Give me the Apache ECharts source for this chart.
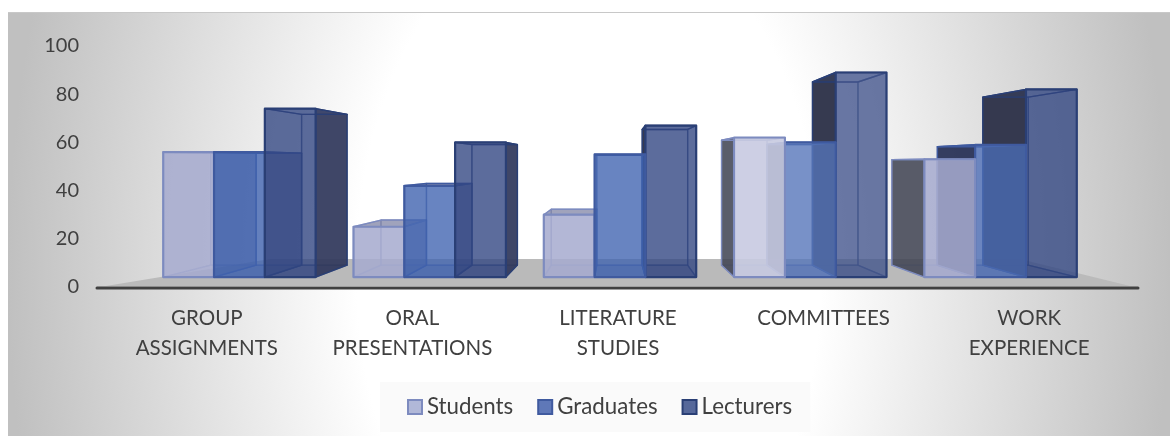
<!DOCTYPE html>
<html><head><meta charset="utf-8">
<style>
html,body{margin:0;padding:0;background:#fff}
#bg{position:absolute;left:8px;top:12px;width:1162px;height:424px;box-sizing:border-box;border-top:1px solid #c8c8c8;
background:radial-gradient(ellipse 581px 900px at 50% 61%,#fff 0%,#fff 40%,#c0c0c0 100%)}
#c{position:absolute;left:0;top:0;width:1170px;height:436px}
</style>
<script src="https://cdn.jsdelivr.net/npm/echarts@6/dist/echarts.min.js"></script>
</head><body><div id="bg"></div><div id="c"></div>
<script>
const categories=['GROUP\nASSIGNMENTS','ORAL\nPRESENTATIONS','LITERATURE\nSTUDIES','COMMITTEES','WORK\nEXPERIENCE'];
const students=[56,25,30,62,53];
const graduates=[56,42,55,60,59];
const lecturers=[74,60,67,89,82];
const yTicks=[0,20,40,60,80,100];
const seriesNames=['Students','Graduates','Lecturers'];
const frontLight=[[0,0,0,.34,0],[0,0,0,.1,.06],[0,0,0,.08,0]];

const FONT='Lato, "Open Sans", sans-serif', TXT='#404040';
const VX=615,VY=163,K=0.895,BASE=4.1,W=50.8,CAT_SCALE=0.9255,CAT_MID=618,BAR_MID=620;
const looks=[
 {front:'rgba(167,172,207,.85)',back:'rgba(150,160,205,.10)',stroke:'#7d8bbf',soft:'rgba(125,139,191,.55)',inner:'rgba(120,130,180,.10)',left:'rgba(62,66,80,.85)',right:'rgba(95,105,155,.55)',top:'rgba(115,120,155,.65)',bottom:'rgba(120,130,180,.2)'},
 {front:'rgba(62,97,175,.75)',back:'rgba(60,90,165,.12)',stroke:'#3f5a9f',soft:'rgba(63,90,159,.5)',inner:'rgba(50,75,145,.14)',left:'rgba(38,48,85,.92)',right:'rgba(45,65,125,.55)',top:'rgba(45,65,125,.65)',bottom:'rgba(50,75,145,.3)'},
 {front:'rgba(50,70,130,.75)',back:'rgba(45,65,125,.16)',stroke:'#2a3f75',soft:'rgba(42,63,117,.6)',inner:'rgba(45,65,125,.14)',left:'rgba(45,50,72,.95)',right:'rgba(50,58,92,.92)',top:'rgba(35,45,90,.85)',bottom:'rgba(40,55,110,.35)'}
];
const bx=x=>VX+(x-VX)*K, by=y=>VY+(y-VY)*K;
function barFace(i,s){return BAR_MID+(i-CAT_MID)*CAT_SCALE-76.2+s*W;}

function barRender(s){return function(params,api){
  const idx=api.value(0);
  const catX=api.coord([idx,0])[0];
  const top=api.coord([0,api.value(1)])[1], bot=api.coord([0,BASE])[1];
  const x1=barFace(catX,s), x2=x1+W, L=looks[s];
  const centres=[0,1,2].map(k=>Math.abs(barFace(catX,k)+W/2-VX));
  const rank=[0,1,2].filter(k=>centres[k]>centres[s]).length;
  const z=rank*10+10;
  const poly=(pts,fill,z2,stroke,lw)=>({type:'polygon',shape:{points:pts},z2:z+z2,
     style:{fill:fill,stroke:stroke,lineWidth:lw||1.4,lineJoin:'round'}});
  const bl=bx(x1),br=bx(x2),bt=by(top),bb=by(bot);
  const leftOuter=bl<x1, rightOuter=br>x2, topOuter=bt<top;
  const children=[
    poly([[bl,bt],[br,bt],[br,bb],[bl,bb]],L.back,0,L.soft),
    poly([[x1,bot],[x2,bot],[br,bb],[bl,bb]],L.bottom,1,L.soft),
    poly([[x1,top],[bl,bt],[bl,bb],[x1,bot]],leftOuter?L.left:L.inner,2,leftOuter?L.stroke:L.soft),
    poly([[x2,top],[br,bt],[br,bb],[x2,bot]],rightOuter?L.right:L.inner,2,rightOuter?L.stroke:L.soft),
    poly([[x1,top],[x2,top],[br,bt],[bl,bt]],topOuter?L.top:L.inner,3,L.stroke),
    poly([[x1,top],[x2,top],[x2,bot],[x1,bot]],L.front,4,L.stroke,2.2)
  ];
  const a=frontLight[s][idx];
  if(a) children.push({type:'polygon',shape:{points:[[x1+1,top+1],[x2-1,top+1],[x2-1,bot-1],[x1+1,bot-1]]},z2:z+5,style:{fill:'rgba(255,255,255,'+a+')'}});
  return {type:'group',children};
};}
function floorRender(params,api){
  const y0=api.coord([0,0])[1], yB=api.coord([0,11.6])[1];
  const cs=params.coordSys, l=cs.x, r=cs.x+cs.width;
  return {type:'group',children:[
    {type:'polygon',shape:{points:[[l+2,y0-1],[l+166,yB],[r-112,yB],[r-2,y0-1]]},style:{fill:'#bababa'}},
    {type:'line',shape:{x1:l-7,y1:y0+1,x2:r+6,y2:y0+1},style:{stroke:'#404040',lineWidth:3,lineCap:'round'}}
  ]};
}
const legendIcons=[
 {fill:'#b1b8d8',stroke:'#7d8bbf'},{fill:'#5f78b8',stroke:'#3f5a9f'},{fill:'#56689a',stroke:'#2a3f75'}];
const chart=echarts.init(document.getElementById('c'),null,{renderer:'canvas'});
chart.setOption({
  animation:false,backgroundColor:'transparent',
  grid:{left:104,right:38,top:46,bottom:149},
  legend:{left:380,top:382,padding:[14,18,14,27],itemWidth:14,itemHeight:14,itemGap:24,icon:'rect',backgroundColor:'rgba(250,250,250,.9)',
    textStyle:{fontFamily:FONT,fontSize:22.3,color:TXT,padding:[0,0,0,0]},
    data:seriesNames.map((n,k)=>({name:n,itemStyle:{color:legendIcons[k].fill,borderColor:legendIcons[k].stroke,borderWidth:2}}))},
  xAxis:{type:'category',data:categories,axisLine:{show:false},axisTick:{show:false},
    axisLabel:{fontFamily:FONT,fontSize:20.5,color:TXT,lineHeight:30,margin:16,interval:0}},
  yAxis:{type:'value',min:0,max:100,interval:20,axisLine:{show:false},axisTick:{show:false},splitLine:{show:false},
    axisLabel:{fontFamily:FONT,fontSize:20,color:TXT,margin:25,formatter:v=>yTicks.includes(v)?String(v):''}},
  series:[
   {type:'custom',name:'floor',z:1,silent:true,clip:false,renderItem:floorRender,data:[[0,0]],encode:{x:0,y:1}},
   ...[students,graduates,lecturers].map((vals,s)=>({type:'custom',name:seriesNames[s],z:3,clip:false,
     itemStyle:{color:legendIcons[s].fill},renderItem:barRender(s),encode:{x:0,y:1},
     data:vals.map((v,i)=>[i,v])}))
  ]
});
</script></body></html>
